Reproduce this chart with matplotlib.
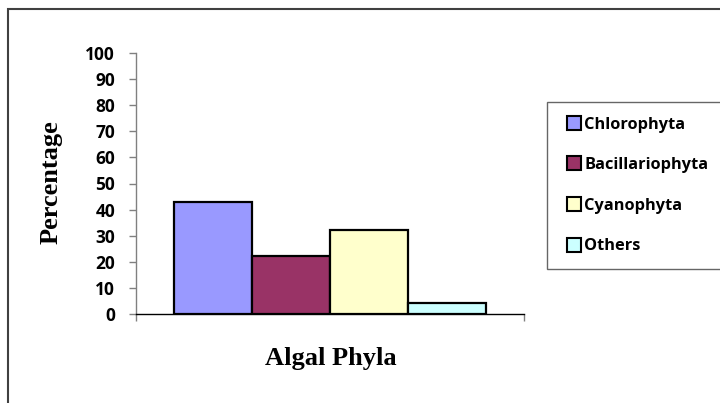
import matplotlib
matplotlib.use("Agg")
import matplotlib.pyplot as plt
from matplotlib.lines import Line2D
from matplotlib.patches import Rectangle

# data
phyla = ["Chlorophyta", "Bacillariophyta", "Cyanophyta", "Others"]
percent = [43, 22.4, 32, 4.1]
colors = ["#9999FF", "#993366", "#FFFFCC", "#CCFFFF"]
y_ticks = list(range(0, 101, 10))

sans = "Open Sans"

fig = plt.figure(figsize=(7.2, 4.03), dpi=100)
W, H = 720.0, 403.0

# axes placed in pixel terms of the reference
ax = fig.add_axes([136 / W, 1 - 314 / H, (523.5 - 136) / W, (314 - 53) / H])

# one category, four touching bars
for i, (name, val, col) in enumerate(zip(phyla, percent, colors)):
    ax.bar(i, val, width=1.0, color=col, edgecolor="black", linewidth=1.6, label=name, zorder=3)

ax.set_xlim(-0.98, 3.98)
ax.set_ylim(0, 100)
ax.set_yticks(y_ticks)
ax.set_yticklabels([str(t) for t in y_ticks], fontfamily=sans, fontweight="bold", fontsize=12.5)
ax.set_xticks([-0.98, 3.98])
ax.set_xticklabels(["", ""])

for side in ["top", "right"]:
    ax.spines[side].set_visible(False)
for side in ["left", "bottom"]:
    ax.spines[side].set_color("#808080")
    ax.spines[side].set_linewidth(1.0)
ax.spines["bottom"].set_color("black")
ax.tick_params(axis="y", direction="out", length=5, width=1, color="#808080", pad=10)
ax.tick_params(axis="x", direction="out", length=5, width=1, color="#808080")

# axis titles
fig.text(51 / W, 1 - 182 / H, "Percentage", rotation=90, ha="center", va="center",
         fontfamily="Liberation Serif", fontweight="bold", fontsize=19)
fig.text(331 / W, 1 - 358 / H, "Algal Phyla", ha="center", va="center",
         fontfamily="Liberation Serif", fontweight="bold", fontsize=19)

# legend
handles = [Line2D([], [], marker="s", linestyle="none", markersize=10,
                  markerfacecolor=c, markeredgecolor="black", markeredgewidth=1.5)
           for c in colors]
leg = fig.legend(handles, phyla, loc="upper left", bbox_to_anchor=(547 / W, 1 - 102 / H),
                 frameon=True, fancybox=False, borderpad=0.89, labelspacing=1.5,
                 handlelength=1.48, handletextpad=-0.11, borderaxespad=0,
                 prop={"family": sans, "weight": "bold", "size": 11.8})
leg.get_frame().set_edgecolor("#404040")
leg.get_frame().set_linewidth(1.0)

# outer chart frame (cropped at right and bottom)
frame = Rectangle((7.5 / W, -0.1), 1.2, 1.1 - 9.5 / H, transform=fig.transFigure,
                  fill=False, edgecolor="#404040", linewidth=1.5, clip_on=False)
fig.patches.append(frame)

fig.savefig("out.png", dpi=100)
